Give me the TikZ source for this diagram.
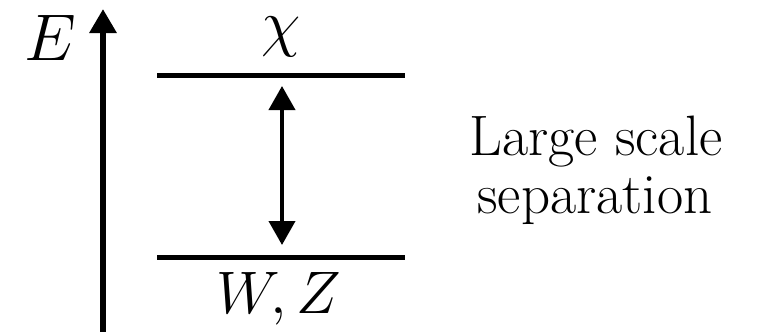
\RequirePackage{fix-cm}
\documentclass[tikz,border=0pt]{standalone}
\usetikzlibrary{arrows.meta}
\begin{document}
\begin{tikzpicture}[x=1pt,y=-1pt,
  level/.style={line width=5pt},
  axisline/.style={line width=6pt,-{Triangle[width=26pt,length=24pt]}},
  gap/.style={line width=4pt,{Triangle[width=26pt,length=24pt]}-{Triangle[width=26pt,length=24pt]}},
  lbl/.style={inner sep=0pt,anchor=base}]
\useasboundingbox (0,0) rectangle (761,332);
% axis
\coordinate (axbot) at (103,334);
\coordinate (axtop) at (103,9);
\draw[axisline] (axbot) -- (axtop);
\node[lbl,font=\fontsize{66}{66}\selectfont] (E) at (50,60) {$E$};
% levels
\coordinate (chiL) at (157,75);
\coordinate (chiR) at (405,75);
\coordinate (wzL) at (157,257);
\coordinate (wzR) at (405,257);
\draw[level] (chiL) -- (chiR);
\draw[level] (wzL) -- (wzR);
\node[lbl,font=\fontsize{64}{64}\selectfont] (chi) at (281,45) {$\chi$};
\node[lbl,font=\fontsize{60}{60}\selectfont] (wz) at (279,313) {$W,Z$};
% gap arrow
\coordinate (gtop) at (282,86);
\coordinate (gbot) at (282,245);
\draw[gap] (gtop) -- (gbot);
% text
\node[lbl,font=\fontsize{57}{58}\selectfont] (txt1) at (596,155) {Large scale};
\node[lbl,font=\fontsize{57}{58}\selectfont] (txt2) at (595,213) {separation};
\end{tikzpicture}
\end{document}
